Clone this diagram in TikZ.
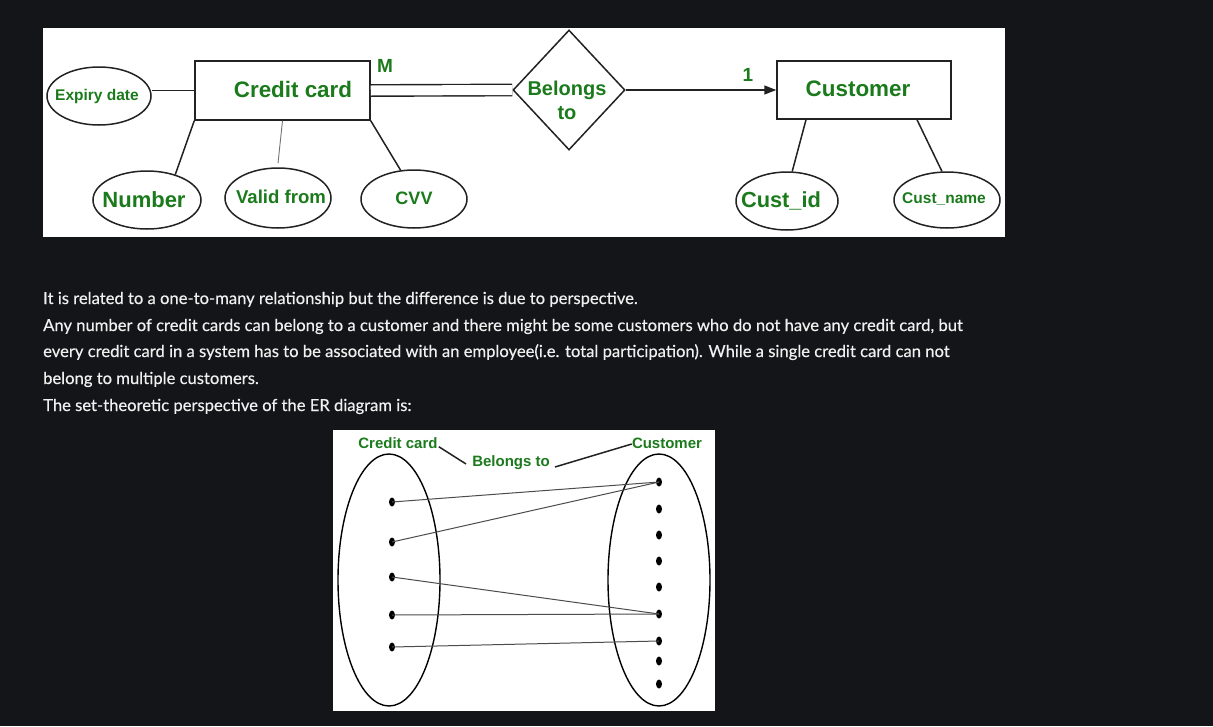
\documentclass[tikz,border=0pt]{standalone}
\usepackage{fontspec}
\setmainfont{Liberation Sans}
\newfontfamily\parafont[FakeBold=0.4]{Lato}
\usetikzlibrary{shapes.geometric,arrows.meta,calc}
\definecolor{bgc}{HTML}{141518}
\definecolor{erg}{HTML}{1B7A1B}
\definecolor{ln}{HTML}{222222}
\definecolor{ptxt}{HTML}{F0F0F0}
\begin{document}
\begin{tikzpicture}[x=1pt,y=-1pt,
  ent/.style={draw=ln,line width=1.5pt,inner sep=0pt},
  etxt/.style={inner sep=0pt,text=erg,font=\bfseries\fontsize{22.4}{26}\selectfont},
  attr/.style={ellipse,draw=ln,line width=1.5pt,inner sep=0pt},
  atxt/.style={inner sep=0pt,text=erg},
  conn/.style={draw=ln,line width=1.5pt},
  lbl/.style={text=erg,inner sep=0pt,font=\bfseries\fontsize{19}{21}\selectfont},
  slbl/.style={text=erg,inner sep=0pt,font=\bfseries\fontsize{15}{17}\selectfont},
  setell/.style={ellipse,draw=black,line width=1.4pt,inner sep=0pt,minimum width=102pt,minimum height=252pt},
  sdot/.style={ellipse,fill=black,inner sep=0pt,minimum width=6pt,minimum height=9pt},
  map/.style={draw=black!70,line width=1pt},
  para/.style={anchor=base west,inner sep=0pt,text=ptxt,font=\parafont\fontsize{16.6}{19}\selectfont}]
\fill[bgc] (0,0) rectangle (1213,726);
\useasboundingbox (0,0) rectangle (1213,726);
\fill[white] (43,28) rectangle (1005,237);
\fill[white] (333,430) rectangle (715,711);

% ---- ER diagram ----
\node[ent,minimum width=175pt,minimum height=59pt] (cc) at (282.5,90.5) {};
\node[etxt] (cct) at (293,89) {Credit card};
\node[ent,minimum width=174pt,minimum height=58pt] (cust) at (864,90) {};
\node[etxt] (custt) at (858,89) {Customer};
\node[diamond,draw=ln,line width=1.5pt,inner sep=0pt,minimum width=112pt,minimum height=120pt] (bel) at (569,90) {};
\node[lbl,align=center,font=\bfseries\fontsize{20}{24}\selectfont] (belt) at (567,100) {Belongs\\to};

\node[attr,minimum width=104pt,minimum height=58pt] (exp) at (99,96) {};
\node[atxt,font=\bfseries\fontsize{15.5}{18}\selectfont] (expt) at (97,96) {Expiry date};
\node[attr,minimum width=108pt,minimum height=58pt] (num) at (147,200) {};
\node[atxt,font=\bfseries\fontsize{22}{24}\selectfont] (numt) at (144,200) {Number};
\node[attr,minimum width=106pt,minimum height=60pt] (vf) at (278,198) {};
\node[atxt,font=\bfseries\fontsize{18.6}{21}\selectfont] (vft) at (281,197) {Valid from};
\node[attr,minimum width=106pt,minimum height=58pt] (cvv) at (414,199) {};
\node[atxt,font=\bfseries\fontsize{18}{21}\selectfont] (cvvt) at (414,198) {CVV};
\node[attr,minimum width=102pt,minimum height=58pt] (cid) at (787,201) {};
\node[atxt,font=\bfseries\fontsize{21.8}{24}\selectfont] (cidt) at (781,201) {Cust\_id};
\node[attr,minimum width=106pt,minimum height=56pt] (cnm) at (947,200) {};
\node[atxt,font=\bfseries\fontsize{15.5}{18}\selectfont] (cnmt) at (944,199) {Cust\_name};

\node[lbl] (m) at (385,66) {M};
\node[lbl] (one) at (748,75) {1};

\draw[conn] (exp.east |- cc.west) -- (cc.west);
\draw[conn] (cc.south west) -- (num.42);
\draw[draw=black!55,line width=0.9pt] (cc.south) -- ([yshift=4pt]vf.north);
\draw[conn] (cc.south east) -- (cvv.115);
\draw[conn,double=white,double distance=10pt,line width=1.4pt] (cc.east) -- (bel.west);
\draw[conn,-{Triangle[length=12pt,width=9pt]}] (bel.east) -- (cust.west);
\draw[conn] ([xshift=-58pt]cust.south) -- (cid.80);
\draw[conn] ([xshift=53pt]cust.south) -- (cnm.100);

% ---- paragraph ----
\node[para] (p1) at (43,304) {It is related to a one-to-many relationship but the difference is due to perspective.};
\node[para] (p2) at (43,331) {Any number of credit cards can belong to a customer and there might be some customers who do not have any credit card, but};
\node[para] (p3) at (43,357) {every credit card in a system has to be associated with an employee(i.e. total participation). While a single credit card can not};
\node[para] (p4) at (43,384) {belong to multiple customers.};
\node[para] (p5) at (43,411) {The set-theoretic perspective of the ER diagram is:};

% ---- set diagram ----
\node[setell] (sl) at (389,580) {};
\node[setell] (sr) at (659,580) {};
\node[slbl] (lcc) at (398,443) {Credit card};
\node[slbl] (lcu) at (667,443) {Customer};
\node[slbl] (lbt) at (511,463) {Belongs to};
\draw[conn] ([xshift=1pt,yshift=2pt]lcc.south east) -- ([xshift=-6pt,yshift=-1pt]lbt.west);
\draw[conn] ([xshift=5pt,yshift=-4pt]lbt.east) -- ([yshift=-1pt]lcu.west);

\foreach \i/\y in {1/502,2/542,3/577,4/615,5/647}
  \node[sdot] (l\i) at (392,\y) {};
\foreach \i/\y in {1/482,2/509,3/535,4/561,5/587,6/614,7/641,8/661,9/684}
  \node[sdot] (r\i) at (659,\y) {};
\draw[map] (l1.center) -- (r1.center);
\draw[map] (l2.center) -- (r1.center);
\draw[map] (l3.center) -- (r6.center);
\draw[map] (l4.center) -- (r6.center);
\draw[map] (l5.center) -- (r7.center);
\end{tikzpicture}
\end{document}
